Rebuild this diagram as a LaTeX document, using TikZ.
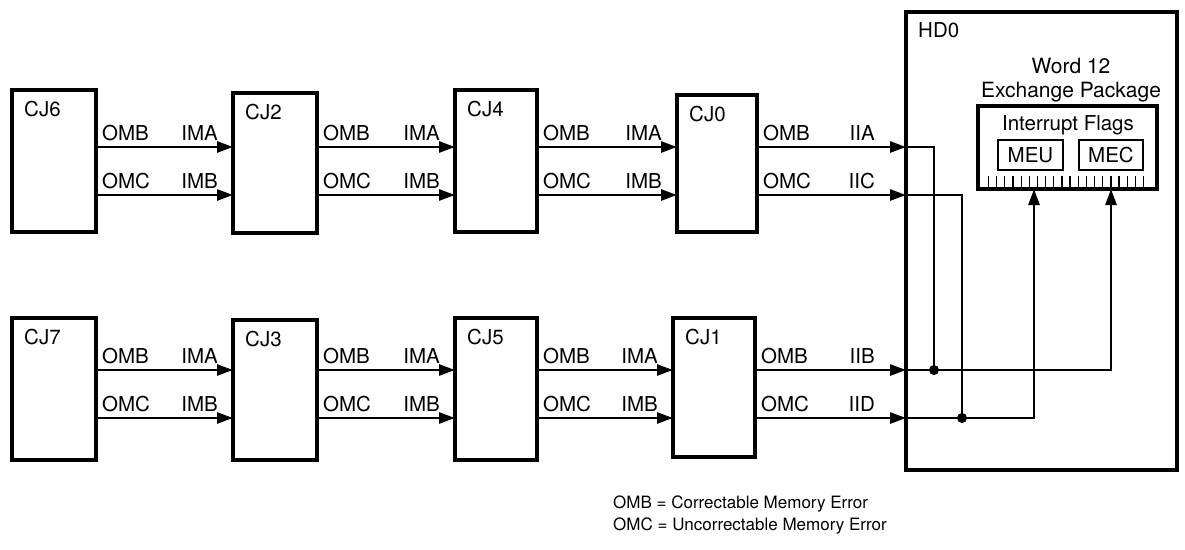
\documentclass[tikz,border=0pt]{standalone}
\usepackage{fontspec}
\setmainfont{TeX Gyre Heros}
\usetikzlibrary{arrows.meta,calc}
\begin{document}
\begin{tikzpicture}[x=1pt,y=-1pt,
  blk/.style={draw, line width=3.6pt, rectangle, inner sep=0pt, outer sep=0pt},
  sub/.style={draw, line width=1.8pt, rectangle, inner sep=0pt, outer sep=0pt, font=\fontsize{20.5}{24}\selectfont},
  lbl/.style={inner sep=0pt, font=\fontsize{20.5}{24}\selectfont},
  big/.style={inner sep=0pt, font=\fontsize{21}{25}\selectfont},
  leg/.style={inner sep=0pt, font=\fontsize{17}{20}\selectfont},
  arr/.style={line width=2.7pt, -{Triangle[length=16pt,width=11pt]}},
  wire/.style={line width=2.7pt},
  tick/.style={line width=1.3pt}]
\useasboundingbox (0,0) rectangle (1185,549);
% row coordinates
\coordinate (r1a) at (0,147);
\coordinate (r1b) at (0,195);
\coordinate (r2a) at (0,370);
\coordinate (r2b) at (0,418);
% boxes
\node[blk, minimum width=84pt, minimum height=142pt] (cj6) at (54,161) {};
\node[blk, minimum width=84pt, minimum height=140pt] (cj2) at (275,163) {};
\node[blk, minimum width=82pt, minimum height=142pt] (cj4) at (496,161) {};
\node[blk, minimum width=80pt, minimum height=137pt] (cj0) at (717,163.5) {};
\node[blk, minimum width=84pt, minimum height=142pt] (cj7) at (54,389) {};
\node[blk, minimum width=84pt, minimum height=140pt] (cj3) at (275,390) {};
\node[blk, minimum width=82pt, minimum height=142pt] (cj5) at (496,389) {};
\node[blk, minimum width=82pt, minimum height=139pt] (cj1) at (714,387.5) {};
\node[blk, minimum width=271pt, minimum height=458pt] (hd0) at (1041.5,241) {};
% box labels
\foreach \b/\t in {cj6/CJ6,cj2/CJ2,cj4/CJ4,cj0/CJ0,cj7/CJ7,cj3/CJ3,cj5/CJ5,cj1/CJ1}{
  \node[lbl, anchor=base west] at ($(\b.north west)+(12,26)$) {\t};
}
\node[lbl, anchor=base west] (hdt) at ($(hd0.north west)+(12,25)$) {HD0};
% exchange package
\node[big, anchor=base] (w12) at (1071,73) {Word 12};
\node[big, anchor=base] (exp) at (1071,97) {Exchange Package};
\node[blk, minimum width=179pt, minimum height=83pt] (flags) at (1067.5,147.5) {};
\node[lbl, anchor=base] (ift) at (1068,130) {Interrupt Flags};
\node[sub, minimum width=65pt, minimum height=30pt] (meu) at (1030.5,155) {MEU};
\node[sub, minimum width=64pt, minimum height=30pt] (mec) at (1111,155) {MEC};
\foreach \i in {0,...,19}{
  \draw[tick] ($(flags.south west)+(10.5+\i*8.16,0)$) -- ++(0,-13);
}
% chain connectors
\foreach \s/\t in {cj6/cj2,cj2/cj4,cj4/cj0}{
  \draw[arr] (\s.east |- r1a) -- (\t.west |- r1a);
  \draw[arr] (\s.east |- r1b) -- (\t.west |- r1b);
  \node[lbl, anchor=base west] at ($(\s.east |- r1a)+(6,-7)$) {OMB};
  \node[lbl, anchor=base west] at ($(\s.east |- r1b)+(6,-7)$) {OMC};
  \node[lbl, anchor=base east] at ($(\t.west |- r1a)+(-15,-7)$) {IMA};
  \node[lbl, anchor=base east] at ($(\t.west |- r1b)+(-15,-7)$) {IMB};
}
\foreach \s/\t in {cj7/cj3,cj3/cj5,cj5/cj1}{
  \draw[arr] (\s.east |- r2a) -- (\t.west |- r2a);
  \draw[arr] (\s.east |- r2b) -- (\t.west |- r2b);
  \node[lbl, anchor=base west] at ($(\s.east |- r2a)+(6,-7)$) {OMB};
  \node[lbl, anchor=base west] at ($(\s.east |- r2b)+(6,-7)$) {OMC};
  \node[lbl, anchor=base east] at ($(\t.west |- r2a)+(-15,-7)$) {IMA};
  \node[lbl, anchor=base east] at ($(\t.west |- r2b)+(-15,-7)$) {IMB};
}
% into HD0
\draw[arr] (cj0.east |- r1a) -- (hd0.west |- r1a);
\draw[arr] (cj0.east |- r1b) -- (hd0.west |- r1b);
\draw[arr] (cj1.east |- r2a) -- (hd0.west |- r2a);
\draw[arr] (cj1.east |- r2b) -- (hd0.west |- r2b);
\node[lbl, anchor=base west] at ($(cj0.east |- r1a)+(6,-7)$) {OMB};
\node[lbl, anchor=base west] at ($(cj0.east |- r1b)+(6,-7)$) {OMC};
\node[lbl, anchor=base east] at ($(hd0.west |- r1a)+(-31,-7)$) {IIA};
\node[lbl, anchor=base east] at ($(hd0.west |- r1b)+(-31,-7)$) {IIC};
\node[lbl, anchor=base west] at ($(cj1.east |- r2a)+(6,-7)$) {OMB};
\node[lbl, anchor=base west] at ($(cj1.east |- r2b)+(6,-7)$) {OMC};
\node[lbl, anchor=base east] at ($(hd0.west |- r2a)+(-31,-7)$) {IIB};
\node[lbl, anchor=base east] at ($(hd0.west |- r2b)+(-31,-7)$) {IID};
% internal routing
\coordinate (jA) at (934,370);
\coordinate (jB) at (962,418);
\draw[wire] (hd0.west |- r1a) -| (jA);
\draw[wire] (hd0.west |- r1b) -| (jB);
\draw[arr] (hd0.west |- r2a) -| (flags.south -| mec);
\draw[arr] (hd0.west |- r2b) -| ($(flags.south -| meu)+(3.5,0)$);
\fill (jA) circle (5);
\fill (jB) circle (5);
% legend
\node[leg, anchor=base west] (leg1) at (613,508) {OMB = Correctable Memory Error};
\node[leg, anchor=base west] (leg2) at (613,530) {OMC = Uncorrectable Memory Error};
\end{tikzpicture}
\end{document}
